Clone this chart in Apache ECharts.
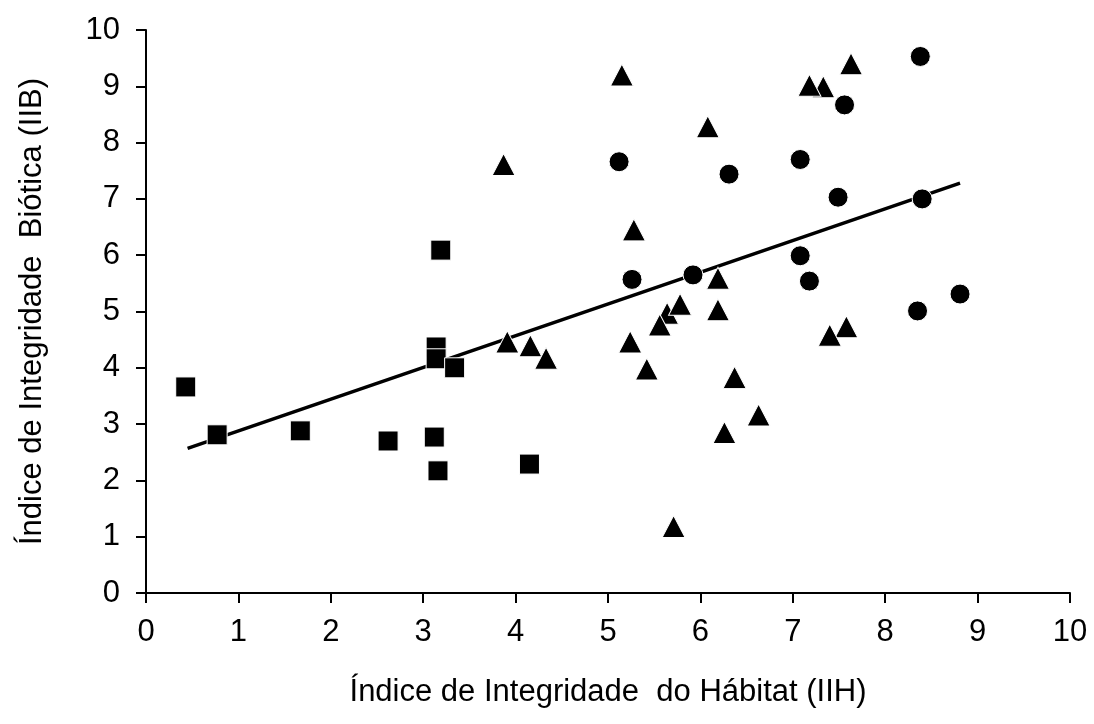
<!DOCTYPE html>
<html>
<head>
<meta charset="utf-8">
<script src="https://cdn.jsdelivr.net/npm/echarts@6/dist/echarts.min.js"></script>
<style>
  html, body { margin: 0; padding: 0; background: #fff; }
  #chart { width: 1094px; height: 724px; }
</style>
</head>
<body>
<div id="chart"></div>
<script>
// Site scores: habitat integrity (IIH) vs biotic integrity (IIB), three site groups
const squareX = [0.43, 0.77, 1.67, 2.62, 3.12, 3.16, 3.14, 3.14, 3.34, 3.19, 4.15];
const squareY = [3.66, 2.81, 2.88, 2.70, 2.77, 2.17, 4.37, 4.16, 4.00, 6.09, 2.29];

const circleX = [5.12, 5.26, 5.92, 6.31, 7.08, 7.08, 7.18, 7.49, 7.56, 8.38, 8.40, 8.35, 8.81];
const circleY = [7.66, 5.57, 5.65, 7.44, 7.70, 5.99, 5.54, 7.03, 8.67, 9.53, 7.00, 5.01, 5.31];

const triangleX = [3.87, 3.91, 4.16, 4.33, 5.15, 5.28, 5.24, 5.42, 5.64, 5.56, 5.78, 5.71,
                   6.08, 6.19, 6.19, 6.26, 6.37, 6.63, 7.33, 7.18, 7.63, 7.58, 7.40];
const triangleY = [7.61, 4.46, 4.39, 4.17, 9.20, 6.45, 4.46, 3.98, 4.97, 4.76, 5.13, 1.18,
                   8.28, 5.59, 5.03, 2.85, 3.83, 3.16, 8.99, 9.02, 9.40, 4.73, 4.58];

// Fitted trend line endpoints
const trendX = [0.45, 8.81];
const trendY = [2.57, 7.28];

const axisTicks = [0, 1, 2, 3, 4, 5, 6, 7, 8, 9, 10];

const xTitle = 'Índice de Integridade  do Hábitat (IIH)';
const yTitle = 'Índice de Integridade  Biótica (IIB)';

const pairs = (xs, ys) => xs.map((x, i) => [x, ys[i]]);

const FONT = "'Liberation Sans', Arial, sans-serif";
const textStyle = { color: '#000', fontFamily: FONT, fontSize: 31 };

const axisCommon = {
  type: 'value',
  min: axisTicks[0],
  max: axisTicks[axisTicks.length - 1],
  interval: 1,
  nameLocation: 'middle',
  nameTextStyle: { color: '#000', fontFamily: FONT, fontSize: 31 },
  axisLine: { show: true, onZero: false, lineStyle: { color: '#000', width: 2 } },
  axisTick: { show: true, inside: false, length: 10, lineStyle: { color: '#000', width: 2 } },
  splitLine: { show: false },
  axisLabel: Object.assign({}, textStyle)
};

const symbolStyle = { color: '#000', opacity: 1, borderColor: '#fff', borderWidth: 1 };

const chart = echarts.init(document.getElementById('chart'), null, { renderer: 'canvas' });
chart.setOption({
  animation: false,
  backgroundColor: '#fff',
  grid: { left: 146, right: 24, top: 30, bottom: 131, outerBoundsMode: 'none' },
  xAxis: Object.assign({}, axisCommon, {
    name: xTitle,
    nameGap: 84,
    axisLabel: Object.assign({}, textStyle, { margin: 24 })
  }),
  yAxis: Object.assign({}, axisCommon, {
    name: yTitle,
    nameGap: 98,
    axisLabel: Object.assign({}, textStyle, { margin: 26 })
  }),
  series: [
    {
      type: 'line',
      data: pairs(trendX, trendY),
      showSymbol: false,
      symbol: 'none',
      lineStyle: { color: '#000', width: 3.5 },
      z: 1
    },
    {
      type: 'scatter',
      data: pairs(squareX, squareY),
      symbol: 'rect',
      symbolSize: 20,
      itemStyle: symbolStyle,
      z: 2
    },
    {
      type: 'scatter',
      data: pairs(circleX, circleY),
      symbol: 'circle',
      symbolSize: 20,
      itemStyle: symbolStyle,
      z: 2
    },
    {
      type: 'scatter',
      data: pairs(triangleX, triangleY),
      symbol: 'triangle',
      symbolSize: [23, 22],
      itemStyle: symbolStyle,
      z: 2
    }
  ]
});
</script>
</body>
</html>
